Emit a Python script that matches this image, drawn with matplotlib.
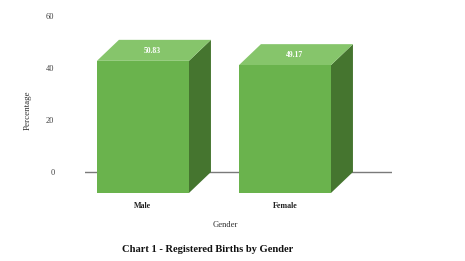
import numpy as np
import matplotlib
matplotlib.use('Agg')
from matplotlib import pyplot as plt
from matplotlib.patches import Polygon

plt.rcParams['font.family'] = ['Liberation Serif', 'DejaVu Serif']

genders = ['Male', 'Female']
percentages = [50.83, 49.17]
yticks = [0, 20, 40, 60]

# 3d look: depth offset of the back face (category units, value units)
width = 0.648
depth_x = 0.155
depth_y = 8.08

front_col = '#6ab34d'
top_col = '#86c56b'
side_col = '#45752f'

fig = plt.figure(figsize=(4.65, 2.61), dpi=100)
ax = fig.add_axes([85 / 465, 61 / 261, 307 / 465, 184 / 261])
ax.set_xlim(-0.563, 1.599)
ax.set_ylim(-10.77, 60)

ax.axhline(0, color='#7a7a7a', lw=1.0, zorder=1)

for i, v in enumerate(percentages):
    # back face corners
    bl, br = i - width / 2, i + width / 2
    # front face is shifted left and down
    fl, fr = bl - depth_x, br - depth_x
    ftop, fbot = v - depth_y, -depth_y
    front = Polygon([(fl, fbot), (fr, fbot), (fr, ftop), (fl, ftop)],
                    closed=True, fc=front_col, ec='none', zorder=3)
    top = Polygon([(fl, ftop), (fr, ftop), (br, v), (bl, v)],
                  closed=True, fc=top_col, ec='none', zorder=3)
    side = Polygon([(fr, fbot), (br, 0), (br, v), (fr, ftop)],
                   closed=True, fc=side_col, ec='none', zorder=3)
    for p in (side, top, front):
        ax.add_patch(p)
    ax.text(i - depth_x / 2 - 0.01, v - depth_y / 2 - 0.3, '%.2f' % v,
            ha='center', va='center', color='white', fontsize=5.5,
            fontweight='bold', zorder=4)

ax.set_yticks(yticks)
ax.set_yticklabels([str(t) for t in yticks], fontsize=6, color='#404040')
ax.set_xticks(np.arange(len(genders)) - depth_x)
ax.set_xticklabels(genders, fontsize=5.8, color='#202020', fontweight='bold')
ax.tick_params(axis='y', length=0, pad=22)
ax.tick_params(axis='x', length=0, pad=1.5)
for s in ax.spines.values():
    s.set_visible(False)

fig.text(28 / 465, 1 - 110 / 261, 'Percentage', rotation=90, ha='center',
         va='center', fontsize=6.5, color='#303030')
fig.text(225 / 465, 1 - 225 / 261, 'Gender', ha='center', va='center',
         fontsize=6.2, color='#303030')
fig.text(208 / 465, 1 - 249 / 261, 'Chart 1 - Registered Births by Gender',
         ha='center', va='center', fontsize=7.6, fontweight='bold', color='#111111')

fig.savefig('out.png', dpi=100)
